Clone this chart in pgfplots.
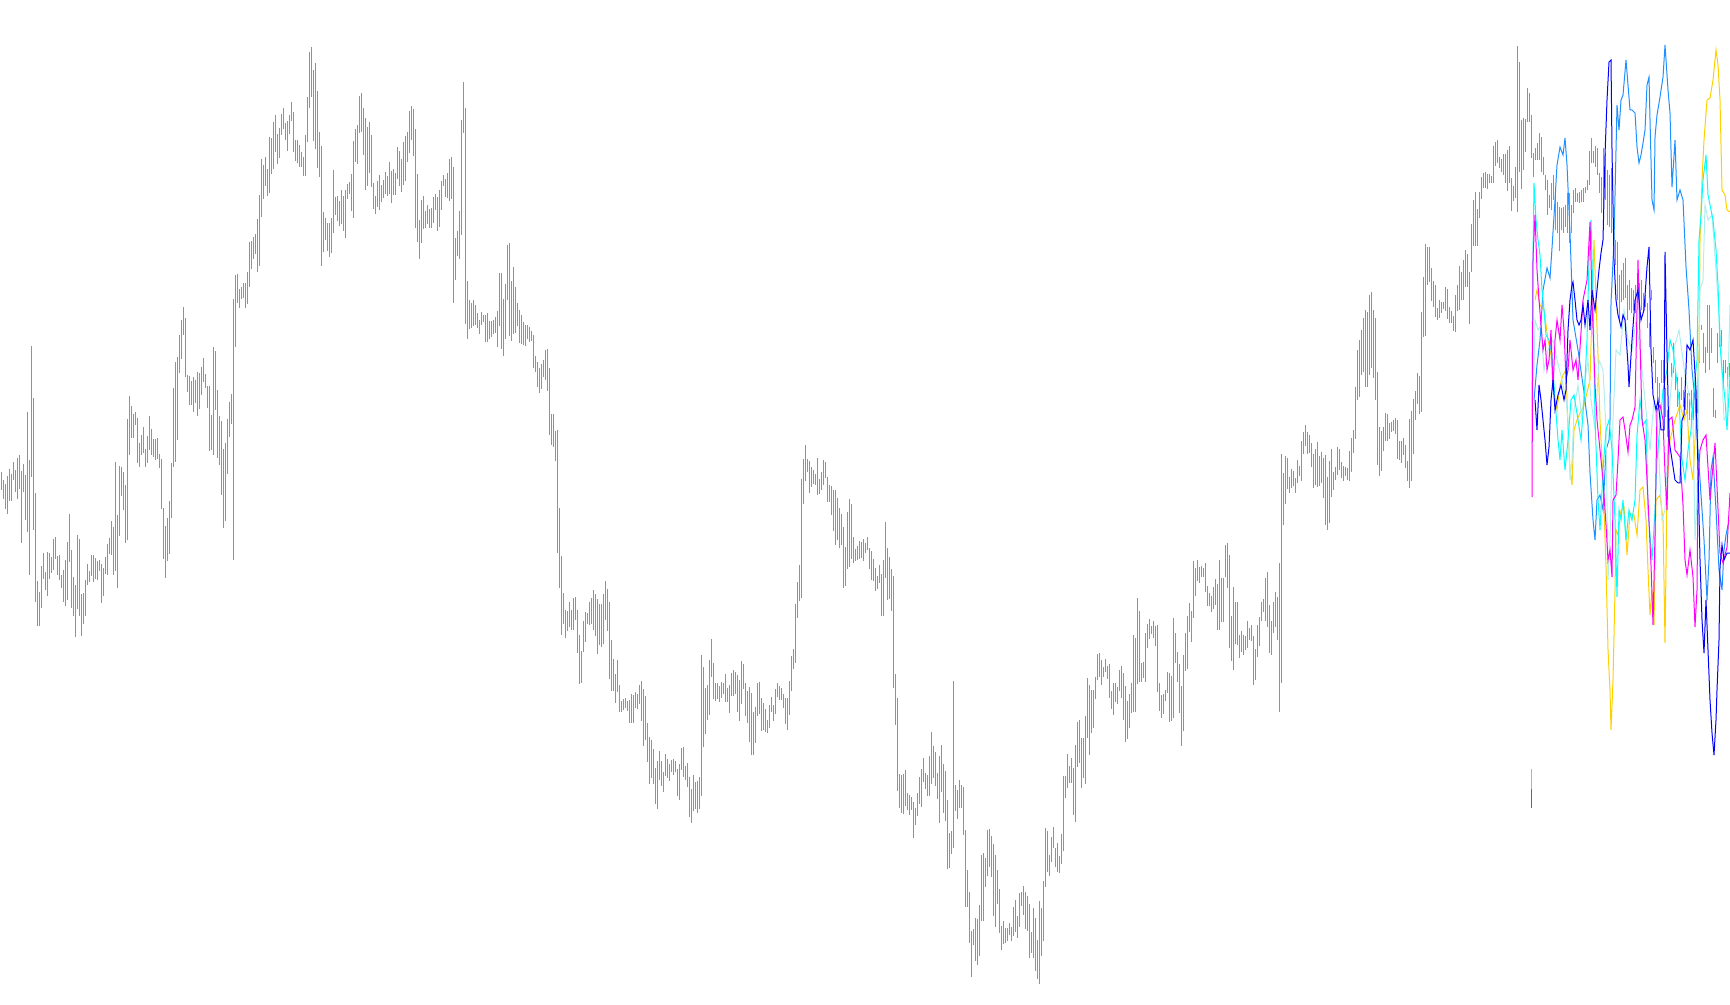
\documentclass[border=0pt]{standalone}
\usepackage{pgfplots}
\usepackage{pgfplotstable}
\pgfplotsset{compat=1.18}
\definecolor{barcol}{RGB}{30,228,30}
\definecolor{dodger}{RGB}{30,144,255}
\definecolor{goldy}{RGB}{255,208,0}
\definecolor{paleturq}{RGB}{175,238,238}
\definecolor{aquac}{RGB}{0,255,255}
\definecolor{magc}{RGB}{255,0,255}
\definecolor{bluec}{RGB}{0,0,255}
% high/low of each bar, in image pixels from the top, bars 2px apart
\pgfplotstableread[row sep=\\]{
hi lo\\
472 490\\ 480 499\\ 484 509\\ 476 514\\ 469 501\\ 474 501\\ 462 480\\ 470 492\\ 458 499\\ 455 489\\
471 543\\ 464 492\\ 475 520\\ 412 532\\ 460 575\\ 346 477\\ 398 530\\ 493 602\\ 581 626\\ 592 626\\
566 608\\ 553 579\\ 572 590\\ 552 596\\ 553 579\\ 557 573\\ 539 570\\ 537 559\\ 556 575\\ 555 580\\
575 588\\ 570 602\\ 560 606\\ 542 600\\ 514 562\\ 550 608\\ 577 616\\ 585 637\\ 535 609\\ 539 616\\
594 636\\ 593 624\\ 580 616\\ 564 585\\ 571 582\\ 555 576\\ 555 582\\ 558 579\\ 561 580\\ 560 571\\
564 603\\ 568 596\\ 557 574\\ 544 575\\ 538 554\\ 521 555\\ 527 575\\ 462 571\\ 515 588\\ 466 536\\
467 496\\ 472 510\\ 485 543\\ 419 540\\ 396 455\\ 406 438\\ 414 438\\ 412 425\\ 418 463\\ 443 467\\
435 455\\ 427 453\\ 449 467\\ 436 463\\ 416 450\\ 429 455\\ 439 457\\ 439 460\\ 438 459\\ 454 468\\
459 509\\ 508 559\\ 526 578\\ 518 561\\ 501 554\\ 463 518\\ 388 467\\ 362 462\\ 357 440\\ 335 373\\
320 359\\ 307 335\\ 318 377\\ 375 392\\ 376 405\\ 381 405\\ 377 412\\ 380 403\\ 372 416\\ 373 409\\
367 395\\ 358 382\\ 374 388\\ 386 408\\ 386 451\\ 415 450\\ 347 455\\ 351 410\\ 390 458\\ 416 465\\
421 495\\ 449 528\\ 443 521\\ 419 474\\ 402 437\\ 394 424\\ 299 560\\ 275 347\\
274 303\\ 289 308\\ 287 299\\ 283 298\\ 283 308\\ 272 304\\ 242 287\\ 241 269\\ 237 259\\ 234 254\\
219 272\\ 195 266\\ 159 217\\ 165 199\\ 157 186\\ 169 196\\ 137 193\\ 138 174\\ 122 169\\ 115 152\\
134 164\\ 128 158\\ 114 135\\ 108 129\\ 123 140\\ 121 151\\ 115 134\\ 102 121\\ 112 152\\ 140 161\\
140 163\\ 145 167\\ 152 167\\ 157 176\\ 135 176\\ 97 142\\ 52 108\\ 47 97\\ 70 141\\ 63 149\\
91 168\\ 132 177\\ 146 266\\ 212 252\\ 218 240\\ 223 251\\ 223 257\\ 218 253\\ 170 233\\ 197 215\\
196 221\\ 201 226\\ 190 224\\ 196 231\\ 190 238\\ 184 199\\ 182 194\\ 174 211\\ 141 218\\ 129 162\\
125 164\\ 96 133\\ 93 132\\ 108 155\\ 118 190\\ 127 186\\ 122 173\\ 135 187\\ 183 209\\ 196 214\\
181 207\\ 175 210\\ 185 202\\ 180 198\\ 172 194\\ 176 196\\ 162 194\\ 171 203\\ 169 195\\ 173 195\\
147 179\\ 151 186\\ 159 192\\ 142 185\\ 136 181\\ 132 162\\ 111 153\\ 106 140\\ 109 156\\ 129 228\\
174 242\\ 220 259\\ 200 243\\ 196 229\\ 211 228\\ 205 224\\ 209 228\\ 208 228\\ 197 223\\ 194 210\\
197 231\\ 190 227\\ 181 210\\ 175 186\\ 179 197\\ 173 198\\ 159 201\\ 157 199\\ 167 303\\ 238 280\\
231 256\\ 211 259\\ 120 235\\ 82 133\\ 108 324\\ 281 339\\ 300 329\\
303 328\\ 300 326\\ 305 325\\ 313 328\\ 320 334\\ 312 325\\ 315 322\\ 315 342\\ 313 342\\ 321 339\\
321 337\\ 320 334\\ 317 333\\ 311 347\\ 273 326\\ 273 349\\ 299 356\\ 284 339\\ 245 300\\ 243 336\\
281 341\\ 267 334\\ 287 333\\ 303 326\\ 310 343\\ 315 344\\ 322 345\\ 325 346\\ 325 339\\ 327 342\\
331 341\\ 335 368\\ 356 372\\ 362 387\\ 368 393\\ 364 389\\ 360 377\\ 350 380\\ 349 391\\ 368 435\\
414 445\\ 414 447\\ 431 461\\ 430 553\\ 508 588\\ 556 635\\ 593 624\\ 610 638\\ 611 631\\ 602 627\\
610 630\\ 598 630\\ 597 620\\ 610 653\\ 635 684\\ 651 683\\ 621 652\\ 612 642\\ 613 624\\ 602 625\\
598 624\\ 590 630\\ 594 636\\ 599 654\\ 604 645\\ 604 647\\ 594 644\\ 581 620\\ 589 631\\ 602 679\\
640 691\\ 659 691\\ 674 703\\ 660 692\\ 685 712\\ 701 712\\ 699 710\\ 698 708\\ 701 711\\ 700 723\\
694 723\\ 695 723\\ 692 708\\ 694 709\\ 685 704\\ 681 721\\ 689 746\\ 696 740\\ 723 762\\ 737 784\\
740 778\\ 749 784\\ 768 804\\ 761 809\\ 751 780\\ 761 786\\ 772 792\\ 754 776\\ 759 778\\ 764 781\\
760 772\\ 759 775\\ 761 772\\ 769 796\\ 764 800\\ 748 770\\ 747 777\\ 766 780\\ 763 787\\ 777 817\\
789 823\\ 775 811\\ 782 809\\ 781 813\\ 777 809\\ 655 796\\ 667 747\\ 688 734\\ 685 720\\ 660 715\\
639 677\\ 663 699\\ 683 701\\ 683 699\\ 686 702\\ 682 698\\ 683 694\\ 674 702\\ 688 702\\ 685 713\\
673 696\\ 670 696\\ 672 694\\ 675 712\\ 680 721\\ 661 704\\ 664 689\\ 683 716\\ 691 723\\ 687 742\\
693 755\\ 712 755\\ 707 743\\ 683 716\\ 682 714\\ 698 731\\ 703 730\\ 709 732\\ 720 733\\ 705 728\\
697 712\\ 705 721\\ 689 714\\ 683 697\\ 686 700\\ 688 700\\ 694 708\\ 698 724\\ 698 730\\ 681 715\\
656 691\\ 649 669\\ 604 663\\ 582 618\\ 565 601\\ 479 598\\ 459 504\\ 445 481\\ 459 472\\ 461 493\\
467 487\\ 470 484\\ 474 485\\ 458 495\\ 479 494\\ 472 490\\ 460 485\\ 462 478\\ 477 502\\ 485 502\\
486 515\\ 490 531\\ 490 545\\ 498 540\\ 508 548\\ 514 545\\ 527 588\\ 547 586\\ 512 569\\ 499 567\\
504 559\\ 537 563\\ 549 561\\ 546 560\\ 541 559\\ 542 558\\ 539 561\\ 543 553\\ 537 550\\ 548 569\\
551 580\\ 559 581\\ 568 591\\ 576 589\\ 565 583\\ 574 616\\ 560 616\\ 522 578\\ 548 600\\ 557 599\\
569 611\\ 576 688\\ 674 725\\ 698 791\\ 774 808\\ 775 813\\ 774 814\\ 770 806\\ 793 810\\ 795 815\\
797 810\\ 802 838\\ 808 825\\ 793 816\\ 777 804\\ 769 807\\ 758 782\\ 773 789\\ 775 796\\ 756 796\\
732 784\\ 746 778\\ 752 786\\ 773 799\\ 756 823\\ 745 792\\ 764 813\\ 771 821\\ 800 869\\ 833 868\\
831 854\\ 681 848\\ 785 811\\ 790 819\\ 780 808\\ 785 808\\ 787 835\\ 830 907\\ 870 907\\ 892 943\\
931 977\\ 929 945\\ 918 961\\ 919 965\\ 905 956\\ 855 921\\ 853 921\\ 858 887\\ 830 876\\ 829 867\\
836 877\\ 844 916\\ 855 927\\ 870 904\\ 889 933\\ 926 950\\ 921 944\\ 928 943\\ 928 941\\ 923 935\\
927 941\\ 907 936\\ 900 932\\ 916 938\\ 893 927\\ 892 906\\ 886 915\\ 892 929\\ 896 931\\ 904 958\\
932 953\\ 908 958\\ 918 971\\ 940 979\\ 901 984\\ 908 956\\ 881 941\\ 828 887\\ 831 872\\ 855 876\\
837 862\\ 827 848\\ 848 867\\ 843 872\\ 856 873\\ 834 864\\ 776 851\\ 776 798\\ 754 788\\ 766 783\\
758 783\\ 768 815\\ 745 822\\ 722 767\\ 720 763\\ 738 788\\ 738 778\\ 716 784\\ 678 738\\ 685 755\\
690 733\\ 690 728\\ 677 699\\ 654 680\\ 653 677\\ 660 685\\ 667 677\\ 659 672\\ 666 679\\ 664 698\\
691 709\\ 683 715\\ 683 702\\ 687 704\\ 670 691\\ 666 698\\ 673 720\\ 686 742\\ 701 739\\ 694 728\\
683 713\\ 635 712\\ 638 712\\ 598 684\\ 611 682\\ 663 682\\ 662 678\\ 633 682\\ 624 648\\ 619 639\\
626 634\\ 621 638\\ 626 646\\ 625 692\\ 683 711\\ 695 718\\ 694 714\\ 690 701\\ 672 693\\ 673 722\\
676 721\\ 618 718\\ 633 663\\ 652 682\\ 664 713\\ 686 746\\ 655 731\\ 633 671\\ 616 669\\ 603 632\\
611 642\\ 561 618\\ 568 596\\ 560 581\\ 567 583\\ 566 577\\ 568 577\\ 563 592\\ 586 606\\ 593 606\\
596 612\\ 587 609\\ 579 605\\ 584 630\\ 560 630\\ 578 622\\ 578 622\\ 545 577\\ 543 588\\ 555 648\\
616 661\\ 587 670\\ 602 644\\ 602 645\\ 635 658\\ 631 652\\ 635 655\\ 636 650\\ 621 648\\ 628 640\\
625 641\\ 636 685\\ 649 680\\ 625 657\\ 617 646\\ 602 621\\ 599 612\\ 578 621\\ 572 627\\ 605 653\\
621 655\\ 602 633\\ 592 627\\ 597 640\\ 563 712\\ 454 683\\ 473 525\\ 456 504\\ 458 489\\ 477 493\\
469 488\\ 471 486\\ 478 493\\ 460 483\\ 466 476\\ 441 481\\ 432 454\\ 425 446\\ 432 454\\ 435 453\\
443 467\\ 454 488\\ 449 485\\ 442 487\\ 456 486\\ 452 483\\ 458 498\\ 455 525\\ 477 530\\ 461 523\\
449 497\\ 472 490\\ 467 480\\ 447 475\\ 449 470\\ 462 478\\ 466 481\\ 467 476\\ 468 480\\ 451 481\\
438 472\\ 430 453\\ 387 439\\ 350 400\\ 340 397\\ 330 375\\ 318 372\\ 310 387\\ 312 387\\ 295 375\\
292 368\\ 310 378\\ 318 400\\ 372 465\\ 427 476\\ 431 471\\ 427 451\\ 413 441\\ 414 441\\ 423 439\\
422 432\\ 420 431\\ 418 434\\ 420 459\\ 441 460\\
441 463\\ 438 455\\ 445 468\\ 461 481\\ 419 488\\ 411 481\\ 399 454\\ 391 420\\ 373 404\\ 376 414\\
312 412\\ 277 337\\ 244 336\\ 247 285\\ 247 282\\ 268 301\\ 281 307\\ 285 317\\ 308 320\\ 300 318\\
302 313\\ 302 309\\ 287 311\\ 289 319\\ 307 323\\ 311 323\\ 316 331\\ 295 332\\ 285 311\\ 266 310\\
272 300\\ 260 300\\ 250 287\\ 254 287\\ 272 324\\ 224 272\\ 200 246\\ 192 246\\ 209 246\\ 192 218\\
177 199\\ 173 188\\ 172 188\\ 174 189\\ 174 183\\ 176 183\\ 146 183\\ 142 166\\ 140 163\\ 157 168\\
159 172\\ 154 175\\ 154 183\\ 150 191\\ 146 183\\ 178 211\\ 186 201\\ 167 198\\ 46 212\\ 62 172\\
120 189\\ 118 170\\ 119 152\\ 88 122\\ 93 122\\ 115 158\\ 153 177\\ 148 160\\ 143 160\\ 133 160\\
137 172\\ 157 175\\ 175 190\\ 180 215\\ 195 208\\ 183 210\\ 175 200\\ 192 230\\ 202 233\\ 207 251\\
208 230\\ 207 233\\ 205 227\\ 193 233\\ 193 243\\ 205 233\\ 190 213\\ 188 202\\ 193 202\\ 192 203\\
190 202\\ 188 202\\ 187 193\\ 180 190\\ 151 185\\ 138 163\\ 151 163\\ 146 167\\ 148 175\\ 173 193\\
177 213\\ 148 217\\ 153 200\\ 170 225\\ 175 227\\ 168 233\\ 237 252\\ 240 265\\ 242 300\\ 275 320\\
270 302\\ 263 300\\ 258 298\\ 285 320\\ 280 310\\ 288 313\\ 290 310\\ 285 313\\ 280 303\\ 283 313\\
280 310\\ 293 313\\ 295 307\\
303 328\\ 323 347\\ 290 300\\ 347 363\\ 360 383\\ 377 400\\ 383 403\\ 360 383\\ 360 383\\ 388 417\\
410 437\\ 430 453\\ 363 377\\ 343 373\\ 373 390\\ 377 407\\ 392 405\\ 377 400\\ 390 407\\ 390 410\\
393 417\\ 393 420\\ 390 420\\ 393 420\\ 377 413\\ 383 413\\ 340 363\\ 325 330\\ 333 363\\ 347 373\\
305 353\\ 305 370\\ 328 353\\ 388 417\\ 410 418\\ 333 363\\ 327 347\\ 330 347\\ 360 387\\ 360 373\\
367 387\\ 363 377\\
}\bars
\begin{document}
\begin{tikzpicture}
\useasboundingbox (0,0) rectangle (865pt,502.5pt);
\begin{axis}[
    scale only axis,
    width=865pt,
    height=502.5pt,
    xmin=0, xmax=1730,
    ymin=0, ymax=1005,
    y dir=reverse,
    hide axis,
    every axis plot/.append style={line width=0.5pt, no markers},
]
\addplot[draw=none, error bars/.cd, y dir=plus, y explicit, error mark=none,
    error bar style={line width=0.5pt, color=barcol}]
    table[x expr=1.33+2*\coordindex, y=hi, y error expr=\thisrow{lo}-\thisrow{hi}] {\bars};

\addplot[goldy] coordinates {(1535,300)(1537,290)(1540,305)(1544,310)(1548,340)(1551,355)(1554,395)(1557,410)(1560,385)(1563,375)(1566,370)(1568,430)(1570,470)(1572,485)(1574,430)(1577,420)(1580,413)(1584,405)(1590,380)(1594,240)(1596,300)(1598,355)(1600,420)(1603,480)(1606,567)(1608,650)(1610,690)(1611,730)(1613,680)(1615,590)(1616,530)(1618,535)(1621,510)(1624,507)(1627,555)(1630,513)(1634,515)(1637,535)(1640,490)(1643,487)(1646,520)(1648,570)(1650,615)(1652,590)(1654,625)(1656,500)(1660,495)(1663,520)(1665,643)(1667,490)(1670,440)(1675,420)(1680,405)(1684,420)(1687,410)(1690,460)(1693,480)(1696,420)(1699,350)(1700,240)(1702,180)(1704,140)(1707,100)(1710,98)(1713,80)(1716,50)(1718,65)(1720,100)(1722,190)(1725,195)(1727,210)(1730,212)};

\addplot[dodger] coordinates {(1534,400)(1537,365)(1540,340)(1543,290)(1547,268)(1550,278)(1552,248)(1555,200)(1557,165)(1560,147)(1563,155)(1565,138)(1567,165)(1570,233)(1573,320)(1578,350)(1583,385)(1588,425)(1590,473)(1593,520)(1595,540)(1597,500)(1600,495)(1603,510)(1606,450)(1609,440)(1610,420)(1611,303)(1614,240)(1617,105)(1619,130)(1621,100)(1623,95)(1626,60)(1628,85)(1630,110)(1632,110)(1635,113)(1637,147)(1639,163)(1641,155)(1643,143)(1645,130)(1647,85)(1649,77)(1650,120)(1652,200)(1654,210)(1655,137)(1657,115)(1660,97)(1663,77)(1665,45)(1668,90)(1670,113)(1672,187)(1675,140)(1677,200)(1680,190)(1683,200)(1686,267)(1689,310)(1692,370)(1695,400)(1698,450)(1700,480)(1704,540)(1707,600)(1709,560)(1711,470)(1713,457)(1716,510)(1719,570)(1722,590)(1724,550)(1726,535)(1729,520)};

\addplot[paleturq] coordinates {(1534,370)(1535,320)(1538,330)(1541,325)(1544,370)(1548,350)(1553,340)(1557,360)(1562,380)(1566,400)(1568,420)(1570,480)(1572,460)(1574,410)(1578,385)(1582,420)(1585,380)(1588,360)(1591,400)(1595,430)(1599,360)(1603,370)(1606,430)(1608,580)(1610,540)(1613,420)(1616,350)(1620,355)(1624,310)(1628,340)(1632,350)(1636,320)(1640,350)(1644,390)(1648,430)(1650,450)(1654,400)(1658,440)(1662,520)(1665,510)(1670,400)(1675,345)(1679,330)(1681,345)(1685,375)(1690,400)(1693,420)(1695,540)(1697,500)(1700,290)(1703,280)(1705,205)(1708,220)(1712,215)(1716,270)(1720,330)(1724,420)(1727,415)(1730,305)};

\addplot[aquac] coordinates {(1532,443)(1532,381)(1533,257)(1534,183)(1536,220)(1538,240)(1540,255)(1542,290)(1544,310)(1546,335)(1549,340)(1552,355)(1555,400)(1558,440)(1560,460)(1562,430)(1565,470)(1568,440)(1571,400)(1574,395)(1578,420)(1581,440)(1584,400)(1587,340)(1589,260)(1591,220)(1593,300)(1595,420)(1598,500)(1600,530)(1603,470)(1606,430)(1609,420)(1612,450)(1615,520)(1617,597)(1619,510)(1621,520)(1623,500)(1626,540)(1629,510)(1632,520)(1635,500)(1637,435)(1640,400)(1643,425)(1646,420)(1648,510)(1652,560)(1655,510)(1657,460)(1660,425)(1663,390)(1667,370)(1670,340)(1673,350)(1676,375)(1679,400)(1682,460)(1685,480)(1688,450)(1691,430)(1694,390)(1697,360)(1699,240)(1701,215)(1703,180)(1706,155)(1708,195)(1710,205)(1713,220)(1716,250)(1718,285)(1720,345)(1722,370)(1725,400)(1727,430)(1730,375)};
\addplot[aquac] coordinates {(1531,769)(1531,789)};

\addplot[magc] coordinates {(1532,497)(1533,257)(1535,215)(1537,270)(1539,300)(1541,325)(1543,350)(1545,340)(1547,370)(1549,360)(1551,330)(1553,390)(1555,340)(1557,320)(1560,340)(1562,305)(1564,330)(1566,380)(1568,370)(1570,340)(1573,370)(1576,360)(1578,380)(1583,300)(1587,280)(1590,222)(1592,300)(1595,385)(1597,420)(1600,450)(1603,480)(1606,525)(1608,560)(1610,550)(1612,577)(1613,500)(1616,495)(1618,460)(1620,420)(1623,417)(1625,430)(1628,452)(1630,425)(1632,420)(1635,407)(1638,260)(1640,340)(1642,420)(1645,440)(1648,500)(1651,565)(1653,625)(1655,535)(1657,410)(1660,405)(1663,420)(1665,473)(1667,510)(1669,420)(1672,417)(1675,450)(1680,457)(1683,505)(1685,560)(1687,575)(1690,550)(1693,577)(1695,627)(1697,590)(1698,480)(1700,450)(1703,440)(1706,435)(1710,500)(1715,443)(1717,487)(1720,553)(1723,563)(1727,547)(1730,493)};
\addplot[magc] coordinates {(1531,789)(1531,808)};

\addplot[bluec] coordinates {(1535,400)(1537,430)(1539,385)(1541,400)(1543,420)(1545,440)(1547,465)(1549,447)(1551,400)(1553,380)(1555,410)(1558,395)(1561,385)(1564,400)(1566,390)(1568,330)(1570,300)(1572,285)(1573,282)(1575,300)(1577,320)(1579,325)(1581,320)(1583,305)(1585,325)(1588,300)(1590,330)(1592,290)(1595,310)(1599,270)(1601,253)(1603,240)(1605,155)(1607,100)(1609,62)(1611,60)(1612,150)(1614,260)(1616,300)(1618,315)(1621,327)(1623,315)(1625,320)(1628,365)(1629,387)(1632,340)(1635,300)(1638,290)(1641,320)(1644,310)(1647,267)(1649,247)(1651,350)(1653,395)(1656,410)(1658,400)(1661,430)(1664,430)(1665,252)(1667,353)(1669,440)(1672,460)(1675,480)(1678,483)(1680,483)(1682,420)(1684,415)(1687,345)(1690,350)(1693,340)(1696,390)(1698,470)(1700,560)(1702,620)(1704,653)(1706,600)(1708,650)(1710,700)(1712,733)(1714,755)(1716,720)(1717,690)(1719,640)(1720,567)(1722,545)(1724,560)(1727,553)(1730,553)};
\end{axis}
\end{tikzpicture}
\end{document}
